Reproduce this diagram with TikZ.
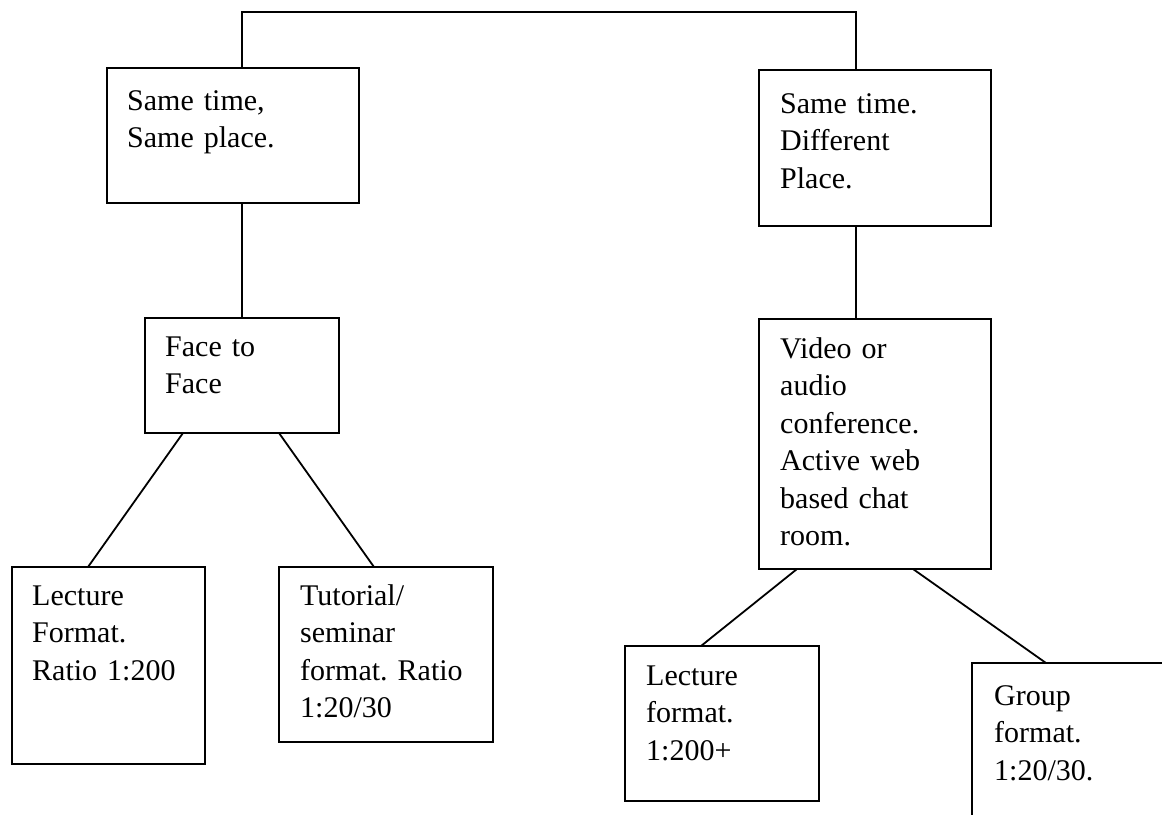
\documentclass[tikz,border=0pt]{standalone}
\usepackage{fontspec}
\setmainfont{Liberation Serif}
\usetikzlibrary{calc}
\begin{document}
\frenchspacing
\begin{tikzpicture}[x=1pt,y=-1pt,
  box/.style={draw, line width=1.8pt, inner sep=0pt, outer sep=0pt, anchor=north west},
  txt/.style={anchor=north west, inner sep=0pt, text width=260pt, align=left, font=\fontsize{30}{37.5}\selectfont\frenchspacing},
  link/.style={line width=1.8pt}]
\useasboundingbox (0,0) rectangle (1162,814);
\fill[white] (0,0) rectangle (1162,814);
\begin{scope}
\clip (0,0) rectangle (1162,814);
\node[box, minimum width=252pt, minimum height=135pt] (b1) at (107,68) {};
\node[box, minimum width=232pt, minimum height=156pt] (b2) at (759,70) {};
\node[box, minimum width=194pt, minimum height=115pt] (face) at (145,318) {};
\node[box, minimum width=232pt, minimum height=250pt] (video) at (759,319) {};
\node[box, minimum width=193pt, minimum height=197pt] (lec1) at (12,567) {};
\node[box, minimum width=214pt, minimum height=175pt] (tut) at (279,567) {};
\node[box, minimum width=194pt, minimum height=155pt] (lec2) at (625,646) {};
\node[box, minimum width=260pt, minimum height=200pt] (grp) at (972,663) {};
\end{scope}

\node[txt] (t1) at ($(b1.north west)+(20,15.75)$) {\strut Same time,\\Same place.};
\node[txt] (t2) at ($(b2.north west)+(21,16.75)$) {\strut Same time.\\Different\\Place.};
\node[txt] (t3) at ($(face.north west)+(20,11.75)$) {\strut Face to\\Face};
\node[txt] (t4) at ($(video.north west)+(21,12.75)$) {\strut Video or\\audio\\conference.\\Active web\\based chat\\room.};
\node[txt] (t5) at ($(lec1.north west)+(20,11.75)$) {\strut Lecture\\Format.\\Ratio 1:200};
\node[txt] (t6) at ($(tut.north west)+(21,11.75)$) {\strut Tutorial/\\seminar\\format. Ratio\\1:20/30};
\node[txt] (t7) at ($(lec2.north west)+(21,12.75)$) {\strut Lecture\\format.\\1:200+};
\node[txt] (t8) at ($(grp.north west)+(22,15.75)$) {\strut Group\\format.\\1:20/30.};

\draw[link] ($(b1.north west)+(135,0)$) -- ++(0,-56) -| ($(b2.north west)+(97,0)$);
\draw[link] ($(b1.south west)+(135,0)$) -- ($(face.north west)+(97,0)$);
\draw[link] ($(b2.south west)+(97,0)$) -- ($(video.north west)+(97,0)$);
\draw[link] ($(face.south west)+(38,0)$) -- ($(lec1.north west)+(76,0)$);
\draw[link] ($(face.south west)+(134,0)$) -- ($(tut.north west)+(95,0)$);
\draw[link] ($(video.south west)+(38,0)$) -- ($(lec2.north west)+(76,0)$);
\draw[link] ($(video.south west)+(154,0)$) -- ($(grp.north west)+(74,0)$);
\end{tikzpicture}
\end{document}
